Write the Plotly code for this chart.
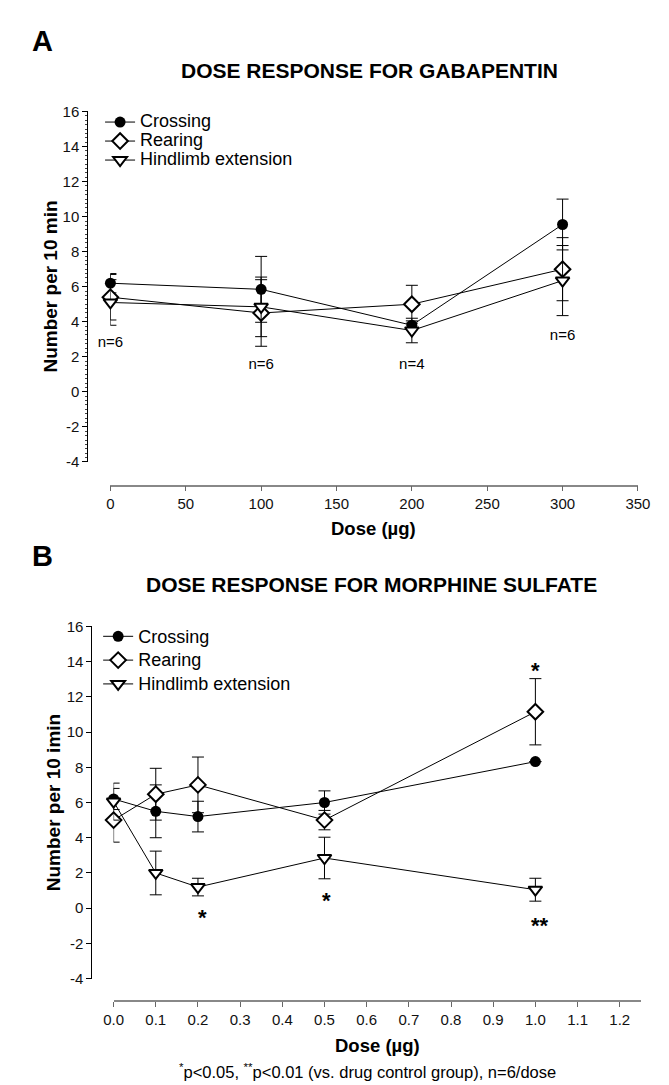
import plotly.graph_objects as go

W, H = 669, 1085

# ---------------- data ----------------
dose_a = [0, 100, 200, 300]
cross_a = [6.2, 5.85, 3.8, 9.55]
cross_a_err = [0.55, 1.88, 0.25, 1.45]
rear_a = [5.4, 4.5, 5.0, 7.0]
rear_a_err = [1.3, 1.9, 1.08, 1.8]
hind_a = [5.1, 4.85, 3.5, 6.35]
hind_a_err = [1.3, 1.7, 0.7, 2.0]
n_labels_a = ["n=6", "n=6", "n=4", "n=6"]
n_label_y_a = [2.75, 1.5, 1.5, 3.2]

dose_b = [0, 0.1, 0.2, 0.5, 1.0]
cross_b = [6.2, 5.5, 5.2, 6.0, 8.32]
cross_b_err = [0.6, 1.5, 0.87, 0.66, 0.0]
rear_b = [5.0, 6.47, 7.0, 5.0, 11.15]
rear_b_err = [1.25, 1.47, 1.58, 0.55, 1.88]
hind_b = [6.05, 2.0, 1.2, 2.85, 1.05]
hind_b_err = [1.05, 1.24, 0.5, 1.18, 0.65]
sig_text_b = ["*", "*", "*", "**"]
sig_x_b = [1.0, 0.21, 0.505, 1.012]
sig_y_b = [13.5, -0.5, 0.42, -0.97]

xticks_a = [0, 50, 100, 150, 200, 250, 300, 350]
xticks_b = [0.0, 0.1, 0.2, 0.3, 0.4, 0.5, 0.6, 0.7, 0.8, 0.9, 1.0, 1.1, 1.2]
xticklabels_b = ["0.0", "0.1", "0.2", "0.3", "0.4", "0.5", "0.6", "0.7", "0.8", "0.9", "1.0", "1.1", "1.2"]
yticks = [-4, -2, 0, 2, 4, 6, 8, 10, 12, 14, 16]
yticklabels = ["-4", "-2", "0", "2", "4", "6", "8", "10", "12", "14", "16"]

FONT = "Liberation Sans, Arial, sans-serif"


def px_x(v):
    return v / W


def px_y(v):
    return 1 - v / H


fig = go.Figure()


def series(x, y, err, name, symbol, filled, xa, ya, legend, size):
    fig.add_trace(go.Scatter(
        x=x, y=y, name=name, mode="lines+markers",
        xaxis=xa, yaxis=ya, legend=legend, cliponaxis=False,
        line=dict(color="black", width=1),
        marker=dict(symbol=symbol, size=size,
                    color="black" if filled else "white",
                    line=dict(color="black", width=0 if filled else 2)),
        error_y=dict(type="data", array=err, visible=True,
                     color="black", thickness=1, width=6),
    ))


def big(name):
    return '<span style="font-size:18px">' + name + "</span>"


series(dose_a, cross_a, cross_a_err, big("Crossing"), "circle", True, "x", "y", "legend", 11)
series(dose_a, rear_a, rear_a_err, big("Rearing"), "diamond", False, "x", "y", "legend", 12)
series(dose_a, hind_a, hind_a_err, big("Hindlimb extension"), "triangle-down", False, "x", "y", "legend", 12)

series(dose_b, cross_b, cross_b_err, big("Crossing"), "circle", True, "x2", "y2", "legend2", 11)
series(dose_b, rear_b, rear_b_err, big("Rearing"), "diamond", False, "x2", "y2", "legend2", 12)
series(dose_b, hind_b, hind_b_err, big("Hindlimb extension"), "triangle-down", False, "x2", "y2", "legend2", 12)

# n labels
fig.add_trace(go.Scatter(
    x=dose_a, y=n_label_y_a, text=n_labels_a, mode="text", xaxis="x", yaxis="y",
    showlegend=False, cliponaxis=False,
    textfont=dict(family=FONT, size=15, color="black"),
))

tickfont = dict(family=FONT, size=15, color="#111")

yax_common = dict(range=[-4, 16], tickvals=yticks, ticktext=yticklabels,
                  showgrid=False, zeroline=False,
                  showline=True, linecolor="black", linewidth=1,
                  ticks="outside", ticklen=5, tickcolor="black", tickwidth=1,
                  tickfont=tickfont, anchor="free")
xax_common = dict(showgrid=False, zeroline=False, showline=True, linecolor="#888",
                  linewidth=1.5, ticks="outside", ticklen=5, tickcolor="#666",
                  tickwidth=1, tickfont=tickfont, anchor="free")

fig.update_layout(
    width=W, height=H, margin=dict(l=0, r=0, t=0, b=0),
    paper_bgcolor="white", plot_bgcolor="white",
    font=dict(family=FONT, color="black"),
    xaxis=dict(xax_common, domain=[px_x(95.7), px_x(642)], range=[0, 350],
               tickvals=xticks_a, position=px_y(476)),
    yaxis=dict(yax_common, domain=[px_y(452), px_y(96)], position=px_x(71.7),
               minor=dict(ticks="outside", ticklen=2, dtick=0.25, tickcolor="#444")),
    xaxis2=dict(xax_common, domain=[px_x(99), px_x(645)], range=[0, 1.25],
                tickvals=xticks_b, ticktext=xticklabels_b, position=px_y(1000)),
    yaxis2=dict(yax_common, domain=[px_y(977), px_y(619)], position=px_x(76)),
    legend=dict(x=px_x(85), y=px_y(92), xanchor="left", yanchor="top",
                font=dict(family=FONT, size=12, color="black"),
                bgcolor="rgba(0,0,0,0)", itemwidth=30, tracegroupgap=0),
    legend2=dict(x=px_x(83), y=px_y(612), xanchor="left", yanchor="top",
                 font=dict(family=FONT, size=16, color="black"),
                 bgcolor="rgba(0,0,0,0)", itemwidth=30, tracegroupgap=0),
)

ann = []
# panel letters
ann.append(dict(text="<b>A</b>", x=px_x(12), y=px_y(24), xanchor="left", yanchor="middle",
                font=dict(size=29)))
ann.append(dict(text="<b>B</b>", x=px_x(12), y=px_y(548), xanchor="left", yanchor="middle",
                font=dict(size=29)))
# titles
ann.append(dict(text="<b>DOSE RESPONSE FOR GABAPENTIN</b>", x=px_x(364), y=px_y(54),
                xanchor="center", yanchor="middle", font=dict(size=21)))
ann.append(dict(text="<b>DOSE RESPONSE FOR MORPHINE SULFATE</b>", x=px_x(366), y=px_y(577),
                xanchor="center", yanchor="middle", font=dict(size=21)))
# axis titles
ann.append(dict(text="<b>Number per 10 min</b>", x=px_x(34), y=px_y(274), textangle=-90,
                xanchor="center", yanchor="middle", font=dict(size=19)))
ann.append(dict(text="<b>Number per 10 imin</b>", x=px_x(37), y=px_y(798), textangle=-90,
                xanchor="center", yanchor="middle", font=dict(size=19)))
ann.append(dict(text="<b>Dose (µg)</b>", x=px_x(368), y=px_y(520),
                xanchor="center", yanchor="middle", font=dict(size=18.5)))
ann.append(dict(text="<b>Dose (µg)</b>", x=px_x(372), y=px_y(1045),
                xanchor="center", yanchor="middle", font=dict(size=18.5)))
# footnote
ann.append(dict(text="<sup>*</sup>p<0.05, <sup>**</sup>p<0.01 (vs. drug control group), n=6/dose",
                x=px_x(362), y=px_y(1071), xanchor="center", yanchor="middle",
                font=dict(size=16.5)))
for a in ann:
    a.update(xref="paper", yref="paper", showarrow=False)

# significance marks
for t, xv, yv in zip(sig_text_b, sig_x_b, sig_y_b):
    ann.append(dict(text="<b>" + t + "</b>", x=xv, y=yv, xref="x2", yref="y2",
                    showarrow=False, xanchor="center", yanchor="middle",
                    font=dict(size=22, color="black")))

fig.update_layout(annotations=ann)

fig.write_html("out.html")
